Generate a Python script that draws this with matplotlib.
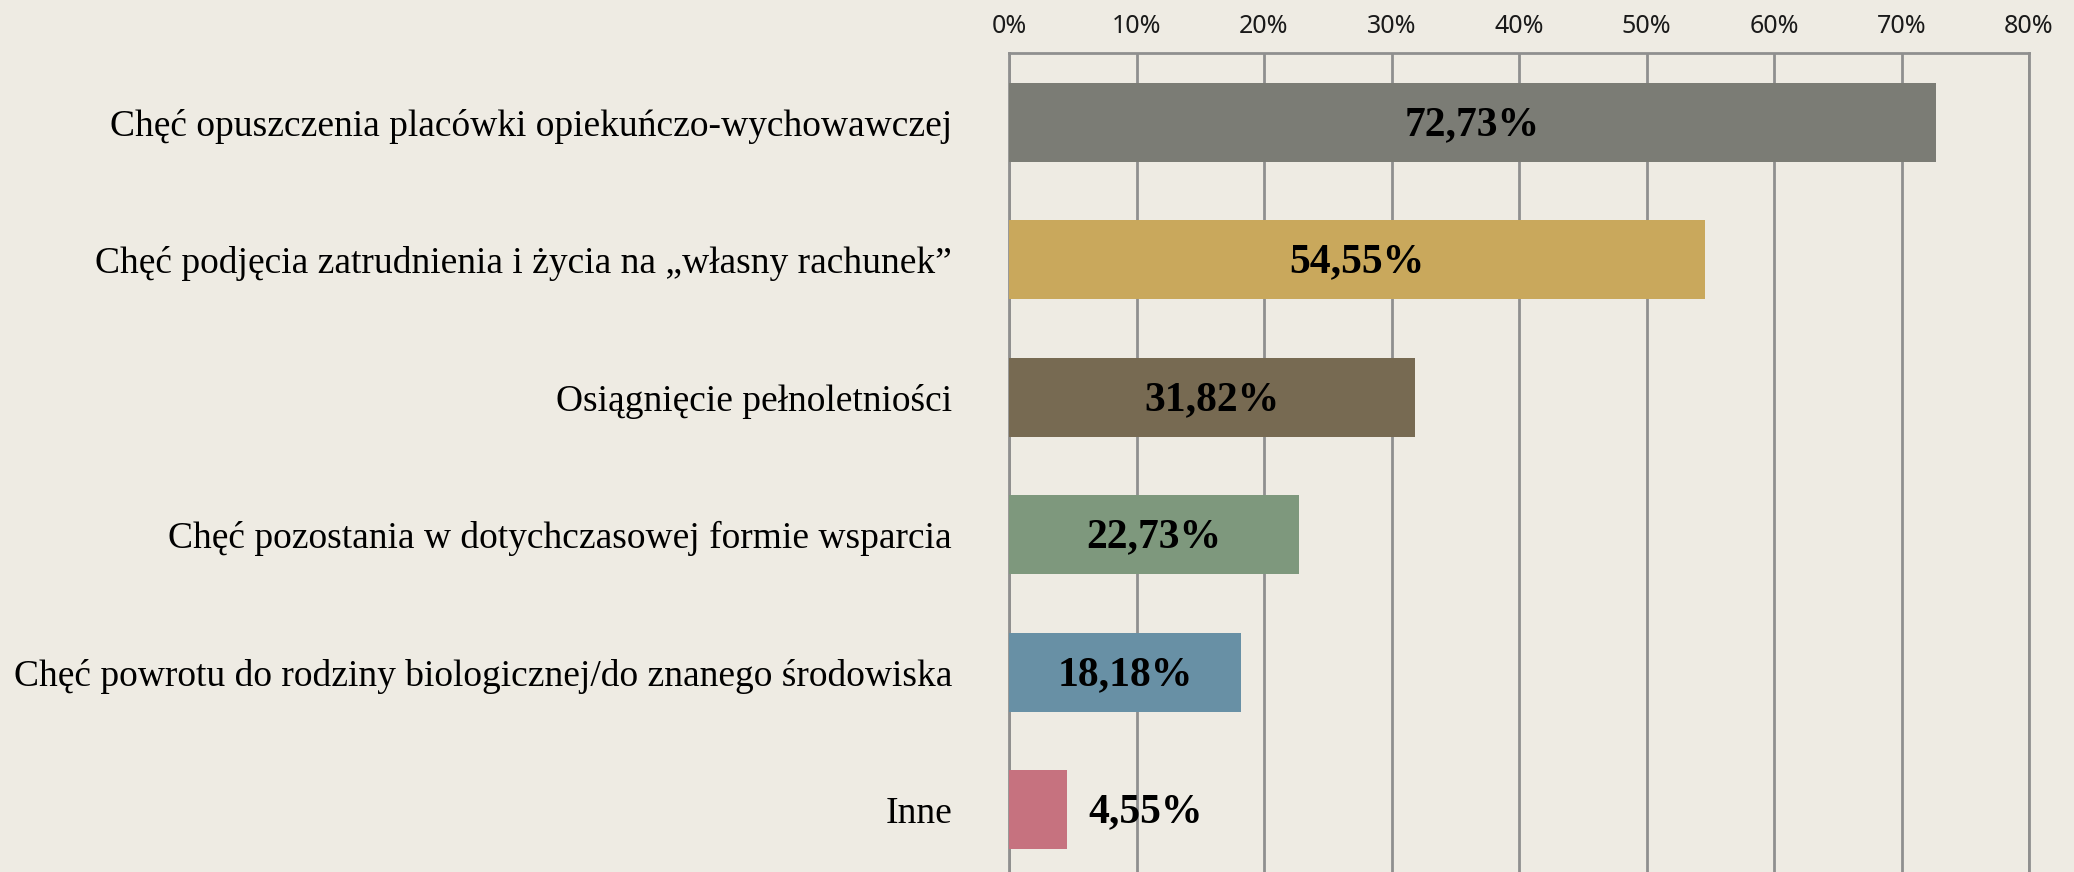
import matplotlib
matplotlib.use("Agg")
import matplotlib.pyplot as plt

categories = [
    "Chęć opuszczenia placówki opiekuńczo-wychowawczej",
    "Chęć podjęcia zatrudnienia i życia na „własny rachunek”",
    "Osiągnięcie pełnoletniości",
    "Chęć pozostania w dotychczasowej formie wsparcia",
    "Chęć powrotu do rodziny biologicznej/do znanego środowiska",
    "Inne",
]
values = [72.73, 54.55, 31.82, 22.73, 18.18, 4.55]
colors = ["#7B7C75", "#C9A85C", "#776A52", "#7E987D", "#6890A5", "#C6727F"]
xticks = [0, 10, 20, 30, 40, 50, 60, 70, 80]
xtick_labels = [f"{t}%" for t in xticks]

bg = "#EEEBE3"
grid_c = "#8F8F8F"

fig = plt.figure(figsize=(20.74, 8.72), dpi=100, facecolor=bg)
ax = fig.add_axes([1009 / 2074, 0.0, (2029 - 1009) / 2074, 1 - 53 / 872])
ax.set_facecolor(bg)

y = list(range(len(categories)))
ax.barh(y, values, height=0.575, color=colors, zorder=3)

ax.set_xlim(0, 80)
ax.set_ylim(5.455, -0.506)

ax.set_xticks(xticks)
ax.set_xticklabels(xtick_labels, fontfamily="Noto Sans", fontsize=18, color="#1a1a1a")
ax.xaxis.tick_top()
ax.tick_params(axis="x", length=0, pad=10)
ax.grid(axis="x", color=grid_c, linewidth=2, zorder=1)

ax.set_yticks(y)
ax.set_yticklabels(categories, fontfamily="Liberation Serif", fontsize=27, color="black")
ax.tick_params(axis="y", length=0, pad=41)

for s in ["left", "top", "right"]:
    ax.spines[s].set_color(grid_c)
    ax.spines[s].set_linewidth(2)
ax.spines["bottom"].set_visible(False)

for yi, v in zip(y, values):
    txt = f"{v:.2f}%".replace(".", ",")
    if v < 10:
        ax.text(v + 1.7, yi + 0.02, txt, ha="left", va="center", fontfamily="Liberation Serif",
                fontweight="bold", fontsize=30, color="black", zorder=4)
    else:
        ax.text(v / 2, yi + 0.02, txt, ha="center", va="center", fontfamily="Liberation Serif",
                fontweight="bold", fontsize=30, color="black", zorder=4)

fig.savefig("out.png", dpi=100, facecolor=bg)
